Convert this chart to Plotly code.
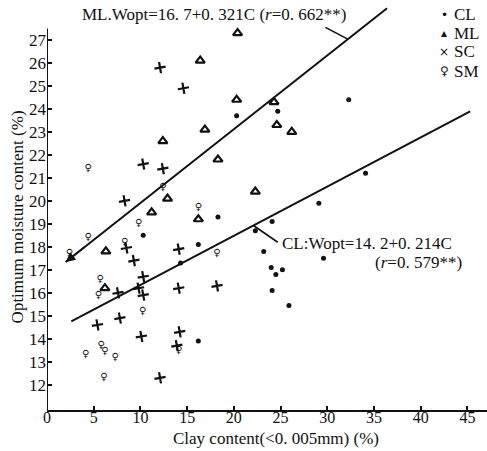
import plotly.graph_objects as go

# Clay content (%) and optimum moisture content (%) by soil group
CL_X = [18.3, 20.3, 24.7, 32.3, 29.1, 34.1, 24.1, 16.2, 22.3, 23.2, 24.0, 25.2, 24.5, 24.1, 25.9, 29.6, 16.2, 10.3, 14.3]
CL_Y = [19.3, 23.7, 23.9, 24.4, 19.9, 21.2, 19.1, 18.1, 18.7, 17.8, 17.1, 17.0, 16.8, 16.1, 15.45, 17.5, 13.9, 18.5, 17.3]

ML_X = [16.4, 12.4, 16.9, 11.2, 16.2, 18.3, 20.3, 20.4, 24.3, 24.6, 26.2, 22.3, 12.9, 6.3, 6.2]
ML_Y = [26.1, 22.6, 23.1, 19.5, 19.2, 21.8, 24.4, 27.3, 24.3, 23.3, 23.0, 20.4, 20.1, 17.8, 16.2]

SC_X = [12.1, 14.6, 10.3, 12.4, 8.3, 8.5, 9.3, 14.1, 7.6, 9.8, 10.3, 10.3, 7.8, 5.4, 10.1, 14.1, 14.2, 13.9, 12.1, 18.2]
SC_Y = [25.8, 24.9, 21.6, 21.4, 20.0, 17.95, 17.4, 17.9, 16.0, 16.2, 16.7, 15.9, 14.9, 14.6, 14.1, 16.2, 14.3, 13.7, 12.3, 16.3]

SM_X = [4.4, 12.4, 16.2, 9.8, 4.4, 2.4, 8.3, 18.2, 5.7, 5.5, 10.25, 14.1, 4.15, 5.8, 6.2, 7.3, 6.1]
SM_Y = [21.4, 20.6, 19.7, 19.0, 18.4, 17.7, 18.2, 17.7, 16.6, 15.9, 15.2, 13.5, 13.3, 13.7, 13.45, 13.2, 12.3]

# Regression fits: Wopt = a + b*C
ML_FIT = (16.7, 0.321)
CL_FIT = (14.2, 0.214)
ML_FIT_RANGE = [2.0, 36.4]
CL_FIT_RANGE = [2.6, 45.3]

X_TICKS = [0, 5, 10, 15, 20, 25, 30, 35, 40, 45]
Y_TICKS = list(range(12, 28))

SERIF = "Liberation Serif"
INK = "#111111"

fig = go.Figure()

def fit_line(fit, xs):
    a, b = fit
    return [a + b * x for x in xs]

fig.add_trace(go.Scatter(x=ML_FIT_RANGE, y=fit_line(ML_FIT, ML_FIT_RANGE), mode="lines",
                         line=dict(color=INK, width=2), showlegend=False, hoverinfo="skip"))
fig.add_trace(go.Scatter(x=CL_FIT_RANGE, y=fit_line(CL_FIT, CL_FIT_RANGE), mode="lines",
                         line=dict(color=INK, width=2), showlegend=False, hoverinfo="skip"))

fig.add_trace(go.Scatter(x=CL_X, y=CL_Y, mode="markers", name="CL",
                         marker=dict(symbol="circle", size=5, color=INK)))
fig.add_trace(go.Scatter(x=ML_X, y=ML_Y, mode="markers", name="ML",
                         marker=dict(symbol="triangle-up-open", size=8, color=INK,
                                     line=dict(width=2.2, color=INK))))
fig.add_trace(go.Scatter(x=SC_X, y=SC_Y, mode="markers", name="SC",
                         marker=dict(symbol="x-thin", size=8, angle=35,
                                     line=dict(width=2.2, color=INK))))
fig.add_trace(go.Scatter(x=SM_X, y=SM_Y, mode="text", name="SM", text=["<b>♀</b>"] * len(SM_X),
                         textfont=dict(family="DejaVu Sans", size=10, color=INK)))

a_ml, b_ml = ML_FIT
a_cl, b_cl = CL_FIT
annotations = [
    dict(x=3.5, y=28.1, xref="x", yref="y", xanchor="left", yanchor="middle", showarrow=False,
         text="ML.Wopt=16. 7+0. 321C (<i>r</i>=0. 662**)",
         font=dict(family=SERIF, size=17, color=INK)),
    dict(x=24.9, y=18.13, xref="x", yref="y", xanchor="left", yanchor="middle", showarrow=False,
         text="CL:Wopt=14. 2+0. 214C", font=dict(family=SERIF, size=17, color=INK)),
    dict(x=44.6, y=17.3, xref="x", yref="y", xanchor="right", yanchor="middle", showarrow=False,
         text="(<i>r</i>=0. 579**)", font=dict(family=SERIF, size=17, color=INK)),
    # open arrowhead at the lower end of the ML fit
    dict(x=ML_FIT_RANGE[0], y=a_ml + b_ml * ML_FIT_RANGE[0], xref="x", yref="y",
         ax=4.2, ay=a_ml + b_ml * 4.2, axref="x", ayref="y", text="",
         showarrow=True, arrowhead=2, arrowsize=1.2, arrowwidth=1.6, arrowcolor=INK),
    # axis titles
    dict(x=-0.068, y=0.47, xref="paper", yref="paper", textangle=-90, showarrow=False,
         xanchor="center", yanchor="middle",
         text="Optimum moisture content (%)", font=dict(family=SERIF, size=17, color=INK)),
    dict(x=0.52, y=-0.069, xref="paper", yref="paper", showarrow=False, yanchor="middle",
         text="Clay content(<0. 005mm) (%)", font=dict(family=SERIF, size=17, color=INK)),
]

# legend drawn as a column of glyph + label
legend_items = [("•", "CL", 28.09), ("▴", "ML", 27.3), ("×", "SC", 26.48), ("<b>♀</b>", "SM", 25.65)]
for glyph, label, ly in legend_items:
    annotations.append(dict(x=42.5, y=ly, xref="x", yref="y", xanchor="center", yanchor="middle",
                            showarrow=False, text=glyph,
                            font=dict(family="DejaVu Sans", size=12, color=INK)))
    annotations.append(dict(x=43.3, y=ly, xref="x", yref="y", xanchor="left", yanchor="middle",
                            showarrow=False, text=label,
                            font=dict(family=SERIF, size=17, color=INK)))

# leader lines from the equations to their fitted lines
shapes = [
    dict(type="line", xref="x", yref="y", x0=29.8, y0=27.55, x1=32.2, y1=a_ml + b_ml * 32.2,
         line=dict(color=INK, width=1.6)),
    dict(type="line", xref="x", yref="y", x0=24.7, y0=18.2, x1=22.1, y1=a_cl + b_cl * 22.1,
         line=dict(color=INK, width=1.6)),
    # vertical axis line
    dict(type="line", xref="x", yref="y", x0=0, y0=10.9, x1=0, y1=27.5,
         line=dict(color=INK, width=2)),
]

fig.update_layout(
    width=487, height=451,
    margin=dict(l=47, r=0, t=0, b=41),
    paper_bgcolor="white", plot_bgcolor="white",
    showlegend=False,
    annotations=annotations,
    shapes=shapes,
    xaxis=dict(range=[0, 47.1], tickvals=X_TICKS, ticks="inside", ticklen=4, tickwidth=1.5,
               tickcolor=INK, showline=True, linecolor=INK, linewidth=2, showgrid=False,
               zeroline=False, ticklabelstandoff=-8,
               tickfont=dict(family=SERIF, size=16, color=INK)),
    yaxis=dict(range=[10.9, 28.74], tickvals=Y_TICKS, ticks="inside", ticklen=5, tickwidth=1.5,
               tickcolor=INK, showline=False, showgrid=False, zeroline=False,
               tickfont=dict(family=SERIF, size=17, color=INK)),
)

fig.write_html("out.html")
